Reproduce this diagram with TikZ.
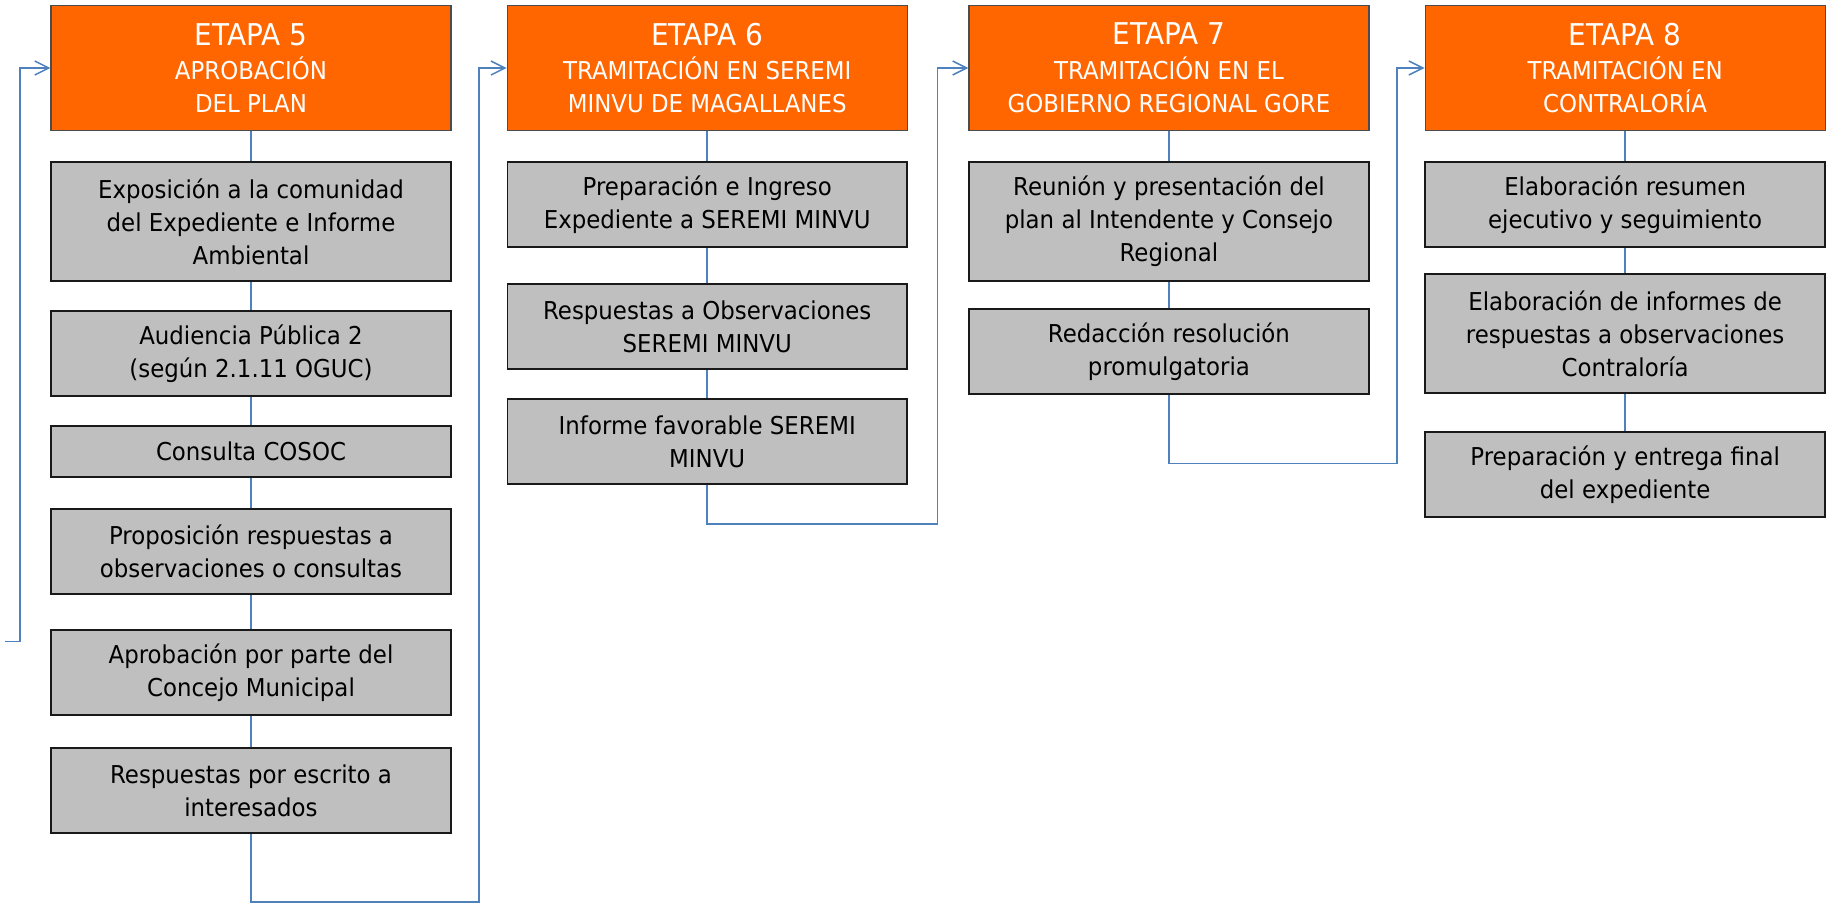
\documentclass[tikz,border=0pt]{standalone}
\usepackage{fontspec}
\setmainfont{DejaVu Sans}[FakeStretch=0.93]
\usepackage{xcolor}
\usepackage{tikz}
\usetikzlibrary{arrows.meta, positioning}

\definecolor{etapa}{HTML}{FF6600}
\definecolor{caja}{HTML}{BFBFBF}
\definecolor{enlace}{HTML}{4F81BD}

\begin{document}
\begin{tikzpicture}[x=0.5pt, y=0.5pt,
head/.style={rectangle, draw=black!70, fill=etapa, text=white, line width=0.6pt, minimum width=200pt, minimum height=62.4pt, inner sep=0pt, align=center, font=\fontsize{12.3}{16.4}\selectfont},
task/.style={rectangle, draw=black!90, fill=caja, line width=0.9pt, minimum width=199.8pt, minimum height=42.6pt, inner sep=0pt, align=center, font=\fontsize{12.3}{16.5}\selectfont},
link/.style={draw=enlace, line width=0.75pt},
flecha/.style={link, -{Straight Barb[length=7pt, width=7pt]}}
]
	\useasboundingbox (0,0) rectangle (1829,-905);
	% etapa 5
	\node[head] (hd1) at (251,-68) {{\fontsize{15}{17}\selectfont ETAPA 5}\\[1pt] APROBACIÓN\\ DEL PLAN};
	\node[task, minimum height=59.6pt, anchor=north, shift={(0,-30)}] (a1) at (hd1.south) {Exposición a la comunidad\\ del Expediente e Informe\\ Ambiental};
	\node[task, anchor=north, shift={(0,-28)}] (a2) at (a1.south) {Audiencia Pública 2\\ (según 2.1.11 OGUC)};
	\node[task, minimum height=25.6pt, anchor=north, shift={(0,-28)}] (a3) at (a2.south) {Consulta COSOC};
	\node[task, anchor=north, shift={(0,-30)}] (a4) at (a3.south) {Proposición respuestas a\\ observaciones o consultas};
	\node[task, anchor=north, shift={(0,-34)}] (a5) at (a4.south) {Aprobación por parte del\\ Concejo Municipal};
	\node[task, anchor=north, shift={(0,-31)}] (a6) at (a5.south) {Respuestas por escrito a\\ interesados};
	% etapa 6
	\node[head, anchor=west, shift={(55,0)}] (hd2) at (hd1.east) {{\fontsize{15}{17}\selectfont ETAPA 6}\\[1pt] TRAMITACIÓN EN SEREMI\\ MINVU DE MAGALLANES};
	\node[task, anchor=north, shift={(0,-30)}] (b1) at (hd2.south) {Preparación e Ingreso\\ Expediente a SEREMI MINVU};
	\node[task, anchor=north, shift={(0,-35)}] (b2) at (b1.south) {Respuestas a Observaciones\\ SEREMI MINVU};
	\node[task, anchor=north, shift={(0,-28)}] (b3) at (b2.south) {Informe favorable SEREMI\\ MINVU};
	% etapa 7
	\node[head, anchor=west, shift={(60.5,0)}] (hd3) at (hd2.east) {{\fontsize{15}{17}\selectfont ETAPA 7}\\[1pt] TRAMITACIÓN EN EL\\ GOBIERNO REGIONAL GORE};
	\node[task, minimum height=59.6pt, anchor=north, shift={(0,-30)}] (c1) at (hd3.south) {Reunión y presentación del\\ plan al Intendente y Consejo\\ Regional};
	\node[task, anchor=north, shift={(0,-26)}] (c2) at (c1.south) {Redacción resolución\\ promulgatoria};
	% etapa 8
	\node[head, anchor=west, shift={(55,0)}] (hd4) at (hd3.east) {{\fontsize{15}{17}\selectfont ETAPA 8}\\[1pt] TRAMITACIÓN EN\\ CONTRALORÍA};
	\node[task, anchor=north, shift={(0,-30)}] (d1) at (hd4.south) {Elaboración resumen\\ ejecutivo y seguimiento};
	\node[task, minimum height=59.6pt, anchor=north, shift={(0,-25)}] (d2) at (d1.south) {Elaboración de informes de\\ respuestas a observaciones\\ Contraloría};
	\node[task, anchor=north, shift={(0,-37)}] (d3) at (d2.south) {Preparación y entrega final\\ del expediente};
	\coordinate (entrada) at (5,-641.7);
	\draw[flecha] (entrada) -| ([xshift=-15.25pt]hd1.west) -- (hd1.west);
	\draw[link] (hd1) -- (a1);
	\draw[link] (a1) -- (a2);
	\draw[link] (a2) -- (a3);
	\draw[link] (a3) -- (a4);
	\draw[link] (a4) -- (a5);
	\draw[link] (a5) -- (a6);
	\draw[flecha] (a6.south) -- ++(0,-68) -| ([xshift=-13.7pt]hd2.west) -- (hd2.west);
	\draw[link] (hd2) -- (b1);
	\draw[link] (b1) -- (b2);
	\draw[link] (b2) -- (b3);
	\draw[flecha] (b3.south) -- ++(0,-39) -| ([xshift=-15.35pt]hd3.west) -- (hd3.west);
	\draw[link] (hd3) -- (c1);
	\draw[link] (c1) -- (c2);
	\draw[flecha] (c2.south) -- ++(0,-68.5) -| ([xshift=-13.65pt]hd4.west) -- (hd4.west);
	\draw[link] (hd4) -- (d1);
	\draw[link] (d1) -- (d2);
	\draw[link] (d2) -- (d3);
\end{tikzpicture}
\end{document}
